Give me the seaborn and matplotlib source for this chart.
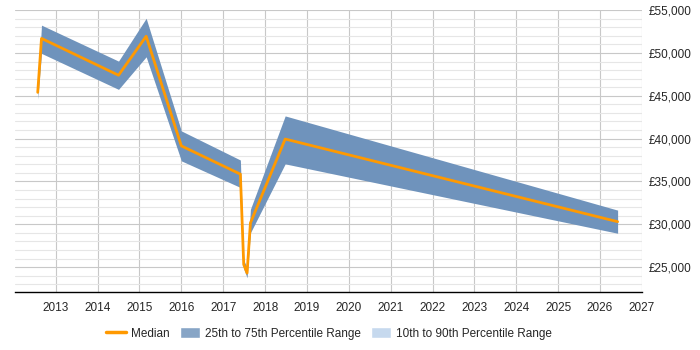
import matplotlib
matplotlib.use("Agg")
import matplotlib.pyplot as plt
import matplotlib.ticker as mticker
from matplotlib.patches import Patch
from matplotlib.lines import Line2D
import seaborn as sns
import pandas as pd

# Data
years = [2012.57, 2012.66, 2014.50, 2015.16, 2016.00, 2017.41, 2017.49, 2017.57, 2017.65, 2018.48, 2026.42]
median = [45400, 51700, 47400, 51950, 39150, 35850, 25300, 24300, 30150, 39950, 30300]
p25 = [44600, 49950, 45750, 49550, 37400, 34300, 24800, 23750, 29000, 37050, 28950]
p75 = [45500, 53250, 49050, 54050, 40900, 37500, 25800, 24950, 31750, 42650, 31650]

df = pd.DataFrame({"year": years, "median": median, "p25": p25, "p75": p75})

sns.set_style("white")
plt.rcParams['font.family'] = ['Liberation Sans', 'DejaVu Sans']

fig = plt.figure(figsize=(7, 3.5), dpi=100)
ax = fig.add_axes([0.021, 0.166, 0.896, 0.805])

band_color = "#6f93bc"
ax.fill_between(df["year"], df["p25"], df["p75"], color=band_color, linewidth=0, zorder=2)
sns.lineplot(data=df, x="year", y="median", color="#ff9900", linewidth=2, ax=ax, zorder=3)

ax.set_xlim(2012.02, 2027)
ax.set_ylim(22100, 55000)
ax.xaxis.set_major_locator(mticker.MultipleLocator(1))
ax.yaxis.set_major_locator(mticker.MultipleLocator(5000))
ax.yaxis.set_minor_locator(mticker.MultipleLocator(1000))
ax.yaxis.set_major_formatter(mticker.FuncFormatter(lambda v, p: f"£{int(v):,}"))
ax.yaxis.tick_right()
ax.grid(which="major", color="#c8c8c8", linewidth=0.8, zorder=0)
ax.grid(which="minor", axis="y", color="#e6e6e6", linewidth=0.8, zorder=0)
ax.set_axisbelow(True)

for s in ["top", "left", "right"]:
    ax.spines[s].set_visible(False)
ax.spines["bottom"].set_color("black")
ax.spines["bottom"].set_linewidth(1)

ax.tick_params(axis="x", which="major", length=5, color="black", labelsize=8.5, pad=2)
ax.tick_params(axis="y", which="both", length=0, labelsize=8.5, pad=5)
ax.set_xlabel("")
ax.set_ylabel("")

handles = [
    Line2D([0], [0], color="#ff9900", linewidth=2.5),
    Patch(facecolor="#87a5c6"),
    Patch(facecolor="#c6d9ee"),
]
labels = ["Median", "25th to 75th Percentile Range", "10th to 90th Percentile Range"]
fig.legend(handles, labels, loc="center", bbox_to_anchor=(0.47, 0.047), ncol=3,
           frameon=False, fontsize=8.5, handlelength=1.7, handleheight=0.95,
           handletextpad=0.45, columnspacing=0.85)

fig.savefig("out.png", dpi=100)
